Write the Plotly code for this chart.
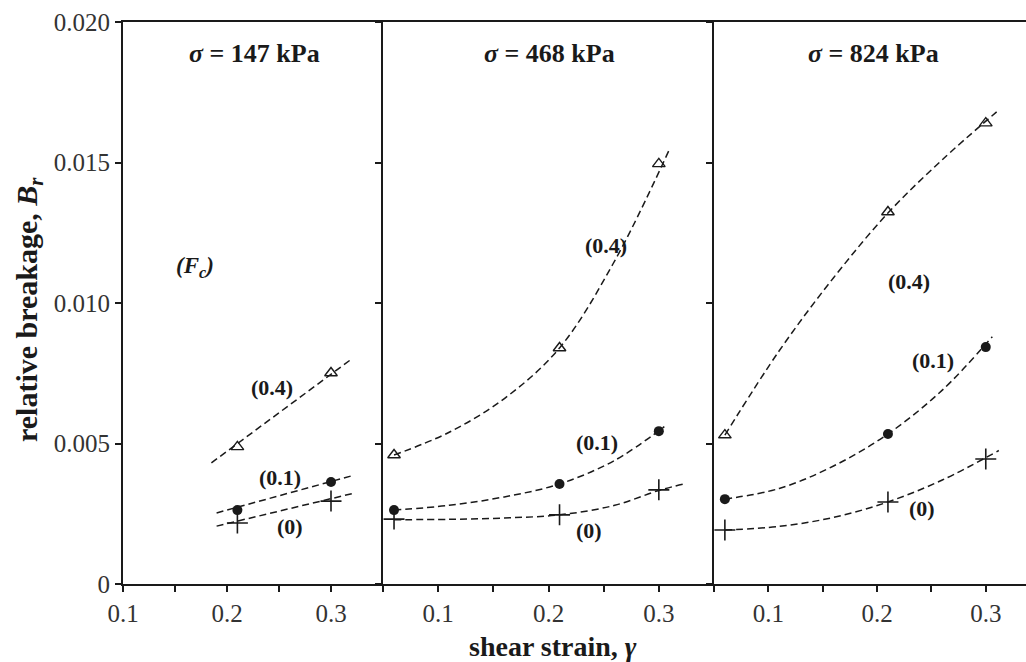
import plotly.graph_objects as go

# ---------------- data ----------------
panel_titles = ["σ = 147 kPa", "σ = 468 kPa", "σ = 824 kPa"]
series_names = ["(0.4)", "(0.1)", "(0)"]

# Panel 1: sigma = 147 kPa
p1_gamma = [0.21, 0.30]
p1_fc04 = [0.00488, 0.00751]
p1_fc01 = [0.00263, 0.00363]
p1_fc00 = [0.00217, 0.00295]
p1_fit04_x = [0.185, 0.321]
p1_fit04_y = [0.00431, 0.00804]
p1_fit01_x = [0.19, 0.319]
p1_fit01_y = [0.00253, 0.00384]
p1_fit00_x = [0.19, 0.323]
p1_fit00_y = [0.00206, 0.00324]
p1_lab_x = [0.243, 0.251, 0.261]
p1_lab_y = [0.0070, 0.0038, 0.00203]

# Panel 2: sigma = 468 kPa
p2_gamma = [0.06, 0.21, 0.30]
p2_fc04 = [0.00459, 0.0084, 0.01495]
p2_fc01 = [0.00263, 0.00356, 0.00544]
p2_fc00 = [0.00231, 0.00246, 0.00335]
p2_fit04_x = [0.06, 0.11, 0.16, 0.21, 0.26, 0.31]
p2_fit04_y = [0.00459, 0.0054, 0.0066, 0.0084, 0.0115, 0.0155]
p2_fit01_x = [0.06, 0.11, 0.16, 0.21, 0.26, 0.305]
p2_fit01_y = [0.00263, 0.0028, 0.0031, 0.00356, 0.0044, 0.0056]
p2_fit00_x = [0.06, 0.11, 0.16, 0.21, 0.26, 0.30, 0.323]
p2_fit00_y = [0.00229, 0.0023, 0.00235, 0.00246, 0.0028, 0.00333, 0.00356]
p2_lab_x = [0.252, 0.244, 0.237]
p2_lab_y = [0.01206, 0.00505, 0.00192]

# Panel 3: sigma = 824 kPa
p3_gamma = [0.06, 0.21, 0.30]
p3_fc04 = [0.0053, 0.01324, 0.0164]
p3_fc01 = [0.00302, 0.00534, 0.00843]
p3_fc00 = [0.00192, 0.00292, 0.00445]
p3_fit04_x = [0.06, 0.11, 0.16, 0.21, 0.26, 0.31]
p3_fit04_y = [0.0053, 0.0083, 0.0109, 0.0132, 0.0151, 0.0168]
p3_fit01_x = [0.06, 0.11, 0.16, 0.21, 0.26, 0.306]
p3_fit01_y = [0.00302, 0.0034, 0.0042, 0.00534, 0.0069, 0.0088]
p3_fit00_x = [0.06, 0.11, 0.16, 0.21, 0.26, 0.312]
p3_fit00_y = [0.00192, 0.00205, 0.00237, 0.00292, 0.0037, 0.00475]
p3_lab_x = [0.229, 0.251, 0.241]
p3_lab_y = [0.01075, 0.00797, 0.00267]

fc_label_x = 0.169
fc_label_y = 0.01128

x_tickvals = [0.05, 0.1, 0.15, 0.2, 0.25, 0.3, 0.35]
x_ticktext = ["", "0.1", "", "0.2", "", "0.3", ""]
y_tickvals = [0, 0.005, 0.010, 0.015, 0.020]
y_ticktext = ["0", "0.005", "0.010", "0.015", "0.020"]

# ---------------- figure ----------------
W, H = 1026, 662
FONT = "Liberation Serif"
INK = "#1a1a1a"

def px_x(p):
    return p / W

def px_y(p):
    return (H - p) / H

panels = [
    dict(g=p1_gamma, s=[p1_fc04, p1_fc01, p1_fc00],
         fx=[p1_fit04_x, p1_fit01_x, p1_fit00_x], fy=[p1_fit04_y, p1_fit01_y, p1_fit00_y],
         lx=p1_lab_x, ly=p1_lab_y, dom=[px_x(123), px_x(383)], rng=[0.1, 0.35], tx=px_x(254)),
    dict(g=p2_gamma, s=[p2_fc04, p2_fc01, p2_fc00],
         fx=[p2_fit04_x, p2_fit01_x, p2_fit00_x], fy=[p2_fit04_y, p2_fit01_y, p2_fit00_y],
         lx=p2_lab_x, ly=p2_lab_y, dom=[px_x(383), px_x(714)], rng=[0.05, 0.35], tx=px_x(549)),
    dict(g=p3_gamma, s=[p3_fc04, p3_fc01, p3_fc00],
         fx=[p3_fit04_x, p3_fit01_x, p3_fit00_x], fy=[p3_fit04_y, p3_fit01_y, p3_fit00_y],
         lx=p3_lab_x, ly=p3_lab_y, dom=[px_x(714), 1.0], rng=[0.05, 0.337], tx=px_x(873)),
]

markers = [
    dict(symbol="triangle-up-open", size=11, color=INK, line=dict(width=1.4, color=INK)),
    dict(symbol="circle", size=10, color=INK, line=dict(width=0)),
    dict(symbol="cross-thin-open", size=15, color=INK, line=dict(width=1.6, color=INK)),
]

fig = go.Figure()
annotations = []
ydom = [px_y(584), px_y(22)]

for i, p in enumerate(panels):
    n = "" if i == 0 else str(i + 1)
    xa, ya = "x" + n, "y" + n
    for k in range(3):
        fig.add_trace(go.Scatter(
            x=p["fx"][k], y=p["fy"][k], xaxis=xa, yaxis=ya, mode="lines",
            line=dict(color=INK, width=1.5, dash="7px,4px", shape="spline", smoothing=1.0),
            showlegend=False, hoverinfo="skip"))
        fig.add_trace(go.Scatter(
            x=p["g"], y=p["s"][k], xaxis=xa, yaxis=ya, mode="markers",
            marker=markers[k], showlegend=False, name=series_names[k]))
        annotations.append(dict(
            x=p["lx"][k], y=p["ly"][k], xref=xa, yref=ya, text="<b>" + series_names[k] + "</b>",
            xanchor="center", yanchor="middle",
            showarrow=False, font=dict(family=FONT, size=22, color=INK)))
    annotations.append(dict(
        x=p["tx"], y=px_y(53), xref="paper", yref="paper",
        xanchor="center", yanchor="middle",
        text="<b><i>σ</i>" + panel_titles[i][1:] + "</b>",
        showarrow=False, font=dict(family=FONT, size=26, color=INK)))

    axis_common = dict(showline=True, linecolor=INK, linewidth=2, showgrid=False,
                       zeroline=False, ticks="outside", ticklen=6, tickwidth=1.5,
                       tickcolor=INK, automargin=False)
    xkw = dict(axis_common, domain=p["dom"], range=p["rng"], anchor=ya,
               tickvals=x_tickvals, ticktext=x_ticktext, mirror=True,
               tickfont=dict(family=FONT, size=25, color="#333333"))
    ykw = dict(axis_common, domain=ydom, range=[0, 0.020], anchor=xa,
               tickvals=y_tickvals,
               ticktext=y_ticktext if i == 0 else [""] * len(y_tickvals),
               showticklabels=(i == 0), mirror=False,
               tickfont=dict(family=FONT, size=25, color="#333333"))
    fig.update_layout(**{"xaxis" + n: xkw, "yaxis" + n: ykw})

annotations.append(dict(
    x=fc_label_x, y=fc_label_y, xref="x", yref="y", xanchor="center", yanchor="middle",
    text="<b><i>(F<sub>c</sub>)</i></b>", showarrow=False,
    font=dict(family=FONT, size=23, color=INK)))
annotations.append(dict(
    x=px_x(553), y=px_y(646), xref="paper", yref="paper", xanchor="center", yanchor="middle",
    text="<b>shear strain, <i>γ</i></b>", showarrow=False,
    font=dict(family=FONT, size=28, color=INK)))
annotations.append(dict(
    x=px_x(29), y=px_y(310), xref="paper", yref="paper", xanchor="center", yanchor="middle",
    textangle=-90,
    text="<b>relative breakage, <i>B<sub>r</sub></i></b>", showarrow=False,
    font=dict(family=FONT, size=30, color=INK)))

fig.update_layout(
    width=W, height=H, margin=dict(l=0, r=0, t=0, b=0, pad=0, autoexpand=False),
    paper_bgcolor="white", plot_bgcolor="white",
    annotations=annotations, showlegend=False)

fig.write_html("out.html")
